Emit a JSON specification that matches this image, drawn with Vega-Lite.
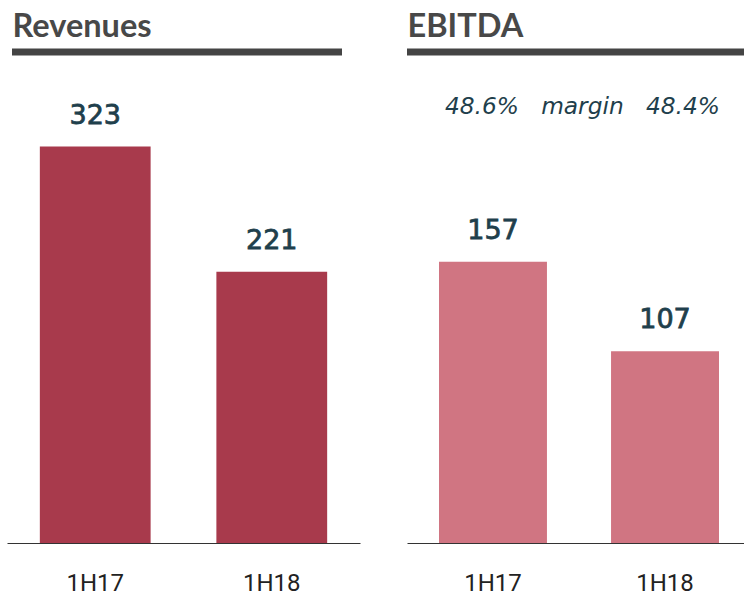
{
  "$schema": "https://vega.github.io/schema/vega-lite/v6.json",
  "background": "white",
  "padding": {"left": 7, "top": 10, "right": 0, "bottom": 0},
  "autosize": {"type": "pad"},
  "bounds": "flush",
  "spacing": 47,
  "config": {"view": {"stroke": null}, "font": "Open Sans"},
  "datasets": {
    "revenues": [{"period": "1H17", "value": 323}, {"period": "1H18", "value": 221}],
    "ebitda": [{"period": "1H17", "value": 157}, {"period": "1H18", "value": 107}],
    "revTitle": [{"title": "Revenues"}],
    "ebitdaTitle": [{"title": "EBITDA", "margin": "48.6%\u00a0\u00a0\u00a0margin\u00a0\u00a0\u00a048.4%"}]
  },
  "hconcat": [
    {
      "width": 353,
      "height": 491,
      "layer": [
        {
          "data": {"name": "revenues"},
          "layer": [
            {
              "mark": {"type": "bar", "color": "#a83a4c"},
              "encoding": {
                "x": {"field": "period", "type": "nominal",
                  "scale": {"paddingInner": 0.3725, "paddingOuter": 0.186},
                  "axis": {"orient": "bottom", "title": null, "ticks": false, "domain": true, "domainColor": "#333", "domainWidth": 1, "labelAngle": 0, "labelFontSize": 24, "labelColor": "#222", "labelPadding": 28.5, "labelFont": "Roboto"}},
                "y": {"field": "value", "type": "quantitative", "scale": {"domain": [0, 400], "nice": false}, "axis": null}
              }
            },
            {
              "mark": {"type": "text", "dy": -23, "baseline": "alphabetic", "fontSize": 27, "fontWeight": "normal", "color": "#1f3f4c", "stroke": "#1f3f4c", "strokeWidth": 0.8, "font": "DejaVu Sans"},
              "encoding": {
                "x": {"field": "period", "type": "nominal"},
                "y": {"field": "value", "type": "quantitative", "scale": {"domain": [0, 400], "nice": false}, "axis": null},
                "text": {"field": "value", "type": "quantitative"}
              }
            }
          ]
        },
        {
          "data": {"name": "revTitle"},
          "layer": [
            {
              "mark": {"type": "rule", "color": "#444", "strokeWidth": 7},
              "encoding": {
                "x": {"datum": 0, "type": "quantitative",
                  "scale": {"domain": [0, 1], "range": [5, 335]},
                  "axis": {"orient": "top", "title": "Revenues", "domain": false, "ticks": false, "labels": false, "grid": false, "titleX": 5, "titleY": -15.5, "titleAlign": "left", "titleAnchor": "start", "titleBaseline": "alphabetic", "titleFontSize": 32.5, "titleFontWeight": "bold", "titleColor": "#484848", "titleFont": "Lato"}},
                "x2": {"datum": 1},
                "y": {"datum": 400, "type": "quantitative", "scale": {"domain": [0, 400], "nice": false}, "axis": null}
              }
            }
          ]
        }
      ],
      "resolve": {"scale": {"x": "independent"}, "axis": {"x": "independent"}}
    },
    {
      "width": 344,
      "height": 491,
      "layer": [
        {
          "data": {"name": "ebitda"},
          "layer": [
            {
              "mark": {"type": "bar", "color": "#d07582"},
              "encoding": {
                "x": {"field": "period", "type": "nominal",
                  "scale": {"paddingInner": 0.3725, "paddingOuter": 0.186},
                  "axis": {"orient": "bottom", "title": null, "ticks": false, "domain": true, "domainColor": "#333", "domainWidth": 1, "labelAngle": 0, "labelFontSize": 24, "labelColor": "#222", "labelPadding": 28.5, "labelFont": "Roboto"}},
                "y": {"field": "value", "type": "quantitative", "scale": {"domain": [0, 274], "nice": false}, "axis": null}
              }
            },
            {
              "mark": {"type": "text", "dy": -23, "baseline": "alphabetic", "fontSize": 27, "fontWeight": "normal", "color": "#1f3f4c", "stroke": "#1f3f4c", "strokeWidth": 0.8, "font": "DejaVu Sans"},
              "encoding": {
                "x": {"field": "period", "type": "nominal"},
                "y": {"field": "value", "type": "quantitative", "scale": {"domain": [0, 274], "nice": false}, "axis": null},
                "text": {"field": "value", "type": "quantitative"}
              }
            }
          ]
        },
        {
          "data": {"name": "ebitdaTitle"},
          "layer": [
            {
              "mark": {"type": "rule", "color": "#444", "strokeWidth": 7},
              "encoding": {
                "x": {"datum": 0, "type": "quantitative",
                  "scale": {"domain": [0, 1], "range": [0, 344]},
                  "axis": {"orient": "top", "title": "EBITDA", "domain": false, "ticks": false, "labels": false, "grid": false, "titleX": 0, "titleY": -15.5, "titleAlign": "left", "titleAnchor": "start", "titleBaseline": "alphabetic", "titleFontSize": 32.5, "titleFontWeight": "bold", "titleColor": "#484848", "titleFont": "Lato"}},
                "x2": {"datum": 1},
                "y": {"datum": 274, "type": "quantitative", "scale": {"domain": [0, 274], "nice": false}, "axis": null}
              }
            },
            {
              "mark": {"type": "text", "align": "center", "baseline": "alphabetic", "fontSize": 23.3, "fontStyle": "italic", "color": "#1f3f4c", "font": "DejaVu Sans"},
              "encoding": {
                "x": {"datum": 0.51, "type": "quantitative"},
                "y": {"datum": 239.5, "type": "quantitative", "scale": {"domain": [0, 274], "nice": false}, "axis": null},
                "text": {"field": "margin", "type": "nominal"}
              }
            }
          ]
        }
      ],
      "resolve": {"scale": {"x": "independent"}, "axis": {"x": "independent"}}
    }
  ]
}
